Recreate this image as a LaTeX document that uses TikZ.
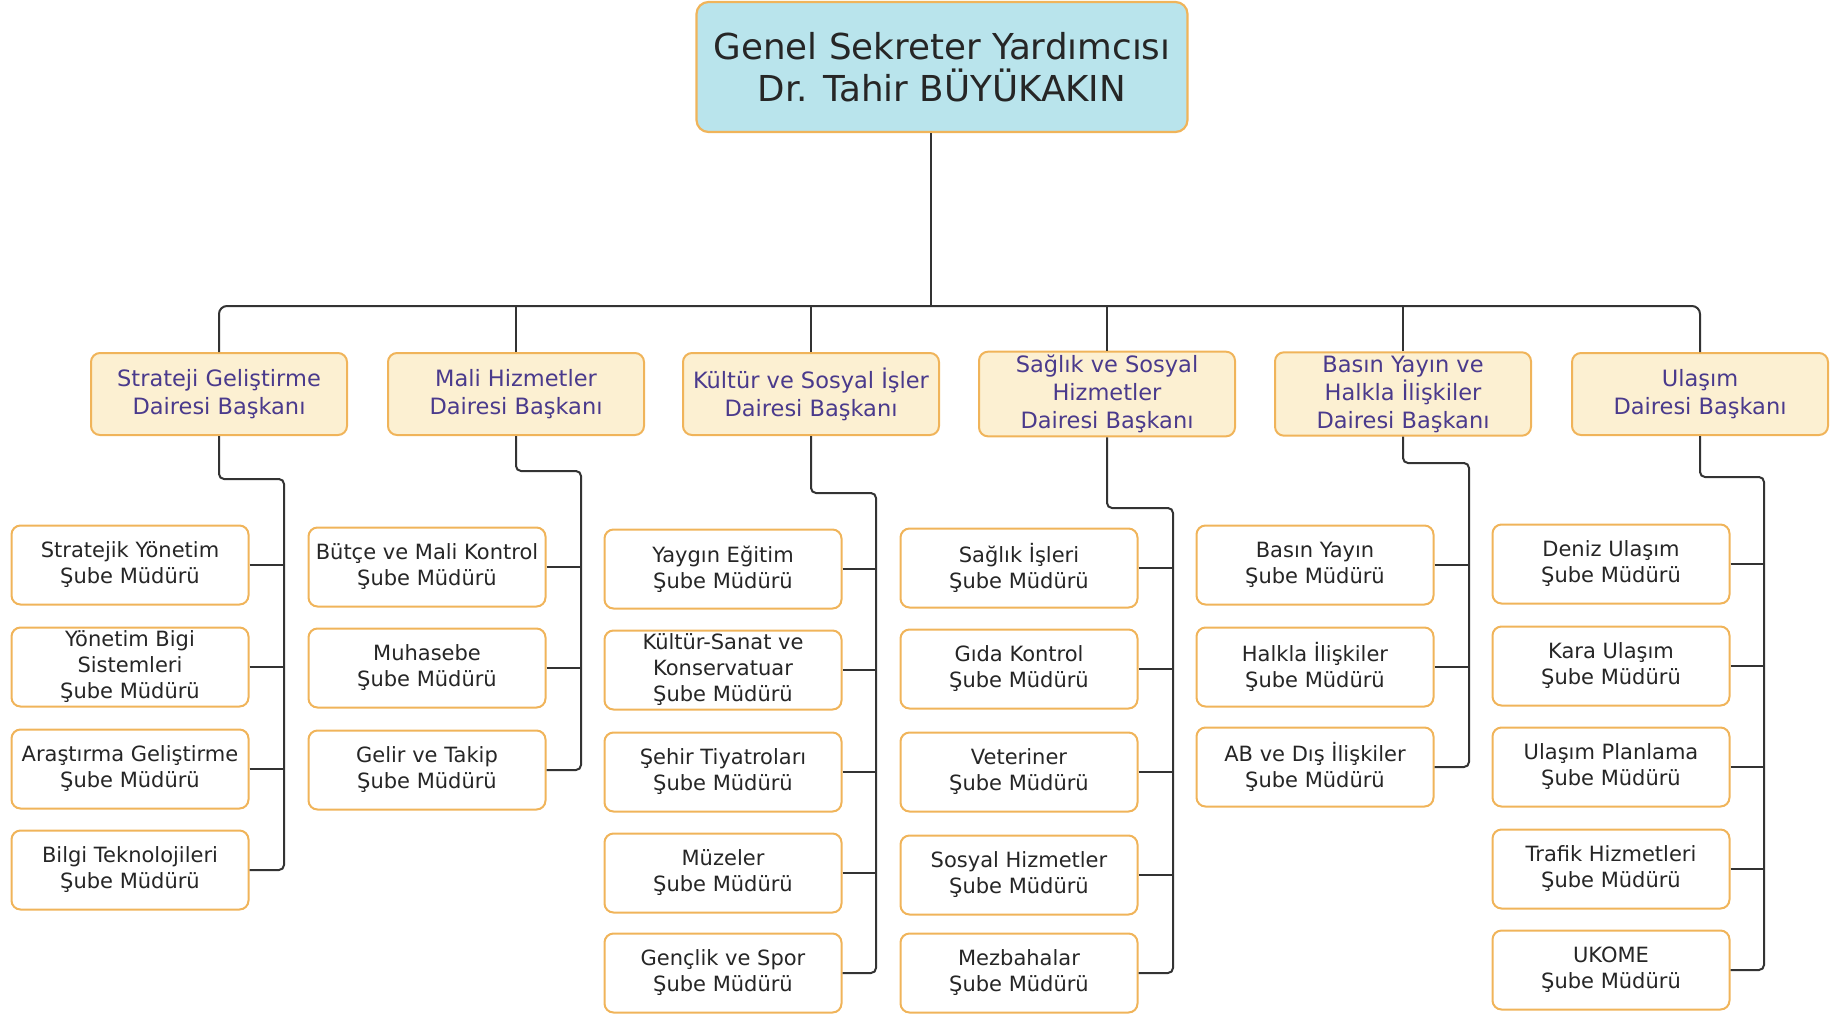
\documentclass[tikz,border=0pt]{standalone}
\usepackage{fontspec}
\setmainfont{DejaVu Sans}
\usetikzlibrary{positioning}
\definecolor{edge}{HTML}{F0B45A}
\definecolor{cyanfill}{HTML}{B9E4EC}
\definecolor{creamfill}{HTML}{FCF0D2}
\definecolor{deptext}{HTML}{4A3A8C}
\definecolor{wire}{HTML}{333333}

\begin{document}
\begin{tikzpicture}
[x=1pt,y=-1pt,
head/.style={rectangle,rounded corners=12pt,draw=edge,fill=cyanfill,line width=2.2pt,
  minimum width=491pt,minimum height=130pt,align=center,text=black!85,
  font=\fontsize{35.7}{42}\selectfont},
dept/.style={rectangle,rounded corners=9pt,draw=edge,fill=creamfill,line width=2pt,
  minimum width=256pt,minimum height=82pt,align=center,text=deptext,
  font=\fontsize{22.5}{28}\selectfont},
unit/.style={rectangle,rounded corners=9pt,draw=edge,fill=white,line width=2pt,
  minimum width=237pt,minimum height=79pt,align=center,text=black!85,
  font=\fontsize{21}{26}\selectfont},
link/.style={draw=wire,line width=2pt}]
\useasboundingbox (0,0) rectangle (1832,1013);

\node (top) at (942,67) [head] {Genel Sekreter Yardımcısı\\Dr. Tahir BÜYÜKAKIN};

\node (d1) at ( 219,394) [dept] {Strateji Geliştirme\\Dairesi Başkanı};
\node (d2) at ( 516,394) [dept] {Mali Hizmetler\\Dairesi Başkanı};
\node (d3) at ( 811,394) [dept] {Kültür ve Sosyal İşler\\Dairesi Başkanı};
\node (d4) at (1107,394) [dept] {Sağlık ve Sosyal\\Hizmetler\\Dairesi Başkanı};
\node (d5) at (1403,394) [dept] {Basın Yayın ve\\Halkla İlişkiler\\Dairesi Başkanı};
\node (d6) at (1700,394) [dept] {Ulaşım\\Dairesi Başkanı};

\node (s11) at ( 130,565) [unit] {Stratejik Yönetim\\Şube Müdürü};
\node (s12) at ( 130,667) [unit] {Yönetim Bigi\\Sistemleri\\Şube Müdürü};
\node (s13) at ( 130,769) [unit] {Araştırma Geliştirme\\Şube Müdürü};
\node (s14) at ( 130,870) [unit] {Bilgi Teknolojileri\\Şube Müdürü};

\node (s21) at ( 427,567) [unit] {Bütçe ve Mali Kontrol\\Şube Müdürü};
\node (s22) at ( 427,668) [unit] {Muhasebe\\Şube Müdürü};
\node (s23) at ( 427,770) [unit] {Gelir ve Takip\\Şube Müdürü};

\node (s31) at ( 723,569) [unit] {Yaygın Eğitim\\Şube Müdürü};
\node (s32) at ( 723,670) [unit] {Kültür-Sanat ve\\Konservatuar\\Şube Müdürü};
\node (s33) at ( 723,772) [unit] {Şehir Tiyatroları\\Şube Müdürü};
\node (s34) at ( 723,873) [unit] {Müzeler\\Şube Müdürü};
\node (s35) at ( 723,973) [unit] {Gençlik ve Spor\\Şube Müdürü};

\node (s41) at (1019,568) [unit] {Sağlık İşleri\\Şube Müdürü};
\node (s42) at (1019,669) [unit] {Gıda Kontrol\\Şube Müdürü};
\node (s43) at (1019,772) [unit] {Veteriner\\Şube Müdürü};
\node (s44) at (1019,875) [unit] {Sosyal Hizmetler\\Şube Müdürü};
\node (s45) at (1019,973) [unit] {Mezbahalar\\Şube Müdürü};

\node (s51) at (1315,565) [unit] {Basın Yayın\\Şube Müdürü};
\node (s52) at (1315,667) [unit] {Halkla İlişkiler\\Şube Müdürü};
\node (s53) at (1315,767) [unit] {AB ve Dış İlişkiler\\Şube Müdürü};

\node (s61) at (1611,564) [unit] {Deniz Ulaşım\\Şube Müdürü};
\node (s62) at (1611,666) [unit] {Kara Ulaşım\\Şube Müdürü};
\node (s63) at (1611,767) [unit] {Ulaşım Planlama\\Şube Müdürü};
\node (s64) at (1611,869) [unit] {Trafik Hizmetleri\\Şube Müdürü};
\node (s65) at (1611,970) [unit] {UKOME\\Şube Müdürü};

% bus under the head
\coordinate (bus) at (931,306);
\draw[link] ([xshift=-11pt]top.south) -- (bus);
\draw[link,rounded corners=8pt] (d1.north) |- (d6.north |- bus) -- (d6.north);
\foreach \d in {d2,d3,d4,d5}
  \draw[link] (\d.north) -- (\d.north |- bus);

% rails
\coordinate (r1) at ( 284,479);
\coordinate (r2) at ( 581,471);
\coordinate (r3) at ( 876,493);
\coordinate (r4) at (1173,508);
\coordinate (r5) at (1469,463);
\coordinate (r6) at (1764,477);

\draw[link,rounded corners=5pt] (d1.south) |- (r1) |- (s14.east);
\draw[link,rounded corners=5pt] (d2.south) |- (r2) |- (s23.east);
\draw[link,rounded corners=5pt] (d3.south) |- (r3) |- (s35.east);
\draw[link,rounded corners=5pt] (d4.south) |- (r4) |- (s45.east);
\draw[link,rounded corners=5pt] (d5.south) |- (r5) |- (s53.east);
\draw[link,rounded corners=5pt] (d6.south) |- (r6) |- (s65.east);

\foreach \s in {s11,s12,s13} \draw[link] (\s.east) -- (\s.east -| r1);
\foreach \s in {s21,s22} \draw[link] (\s.east) -- (\s.east -| r2);
\foreach \s in {s31,s32,s33,s34} \draw[link] (\s.east) -- (\s.east -| r3);
\foreach \s in {s41,s42,s43,s44} \draw[link] (\s.east) -- (\s.east -| r4);
\foreach \s in {s51,s52} \draw[link] (\s.east) -- (\s.east -| r5);
\foreach \s in {s61,s62,s63,s64} \draw[link] (\s.east) -- (\s.east -| r6);
\end{tikzpicture}
\end{document}
